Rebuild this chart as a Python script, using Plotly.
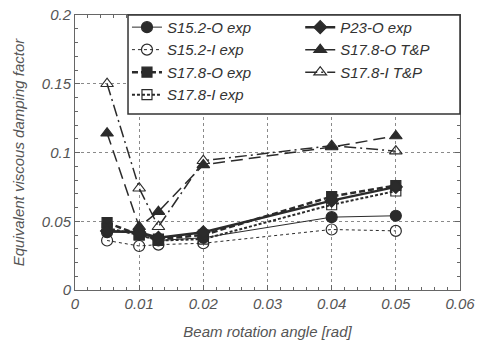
import plotly.graph_objects as go

x_vals = [0.005, 0.01, 0.013, 0.02, 0.04, 0.05]

s152_o_exp = [0.042, 0.042, 0.036, 0.038, 0.053, 0.054]
s152_i_exp = [0.036, 0.032, 0.033, 0.034, 0.044, 0.043]
s178_o_exp = [0.049, 0.040, 0.037, 0.040, 0.068, 0.076]
s178_i_exp = [0.045, 0.040, 0.036, 0.037, 0.062, 0.072]
p23_o_exp = [0.043, 0.042, 0.038, 0.042, 0.065, 0.075]
s178_o_tp = [0.114, 0.046, 0.057, 0.091, 0.104, 0.112]
s178_i_tp = [0.150, 0.074, 0.046, 0.094, 0.105, 0.101]

names = ["S15.2-O exp", "S15.2-I exp", "S17.8-O exp", "S17.8-I exp",
         "P23-O exp", "S17.8-O T&P", "S17.8-I T&P"]

x_ticks = [0, 0.01, 0.02, 0.03, 0.04, 0.05, 0.06]
x_tick_text = ["0", "0.01", "0.02", "0.03", "0.04", "0.05", "0.06"]
y_ticks = [0, 0.05, 0.1, 0.15, 0.2]
y_tick_text = ["0", "0.05", "0.1", "0.15", "0.2"]

DK = "#2b2b2b"
FONT = "Liberation Sans, Arial, sans-serif"

styles = [
    dict(y=s152_o_exp, dash="solid", w=1.0, sym="circle", size=11, legend="legend"),
    dict(y=s152_i_exp, dash="dot", w=1.0, sym="circle-open", size=11, legend="legend"),
    dict(y=s178_o_exp, dash="6px,3px", w=2.5, sym="square", size=10, legend="legend"),
    dict(y=s178_i_exp, dash="3px,2px", w=2.0, sym="square-open", size=10, legend="legend"),
    dict(y=p23_o_exp, dash="solid", w=2.5, sym="diamond", size=10, legend="legend2"),
    dict(y=s178_o_tp, dash="12px,6px", w=1.5, sym="triangle-up", size=11, legend="legend2"),
    dict(y=s178_i_tp, dash="12px,4px,2px,4px", w=1.5, sym="triangle-up-open", size=11, legend="legend2"),
]

fig = go.Figure()
for name, st in zip(names, styles):
    fig.add_trace(go.Scatter(
        x=x_vals, y=st["y"], name=name, mode="lines+markers",
        line=dict(color=DK, width=st["w"], dash=st["dash"]),
        marker=dict(symbol=st["sym"], size=st["size"], color=DK,
                    line=dict(color=DK, width=1.2)),
        legend=st["legend"],
    ))

axis_common = dict(
    showline=True, linecolor="#666", linewidth=1, mirror="allticks",
    ticks="inside", ticklen=5, tickcolor="#666",
    showgrid=True, gridcolor="#8a8a8a", gridwidth=1, griddash="dot",
    zeroline=False, automargin=False, ticklabeloverflow="allow",
    tickfont=dict(family=FONT, size=15, color="#555", style="italic"),
)

fig.update_xaxes(
    range=[0, 0.06], tickvals=x_ticks, ticktext=x_tick_text,
    minor=dict(dtick=0.002, ticks="inside", ticklen=3, tickcolor="#666", showgrid=False),
    title=dict(text="Beam rotation angle [rad]", standoff=15,
               font=dict(family=FONT, size=15, color="#555", style="italic")),
    **axis_common,
)
fig.update_yaxes(
    range=[0, 0.2], tickvals=y_ticks, ticktext=y_tick_text,
    minor=dict(dtick=0.01, ticks="inside", ticklen=3, tickcolor="#666", showgrid=False),
    title=dict(text="Equivalent viscous damping factor", standoff=13,
               font=dict(family=FONT, size=15, color="#555", style="italic")),
    **axis_common,
)

legend_common = dict(
    bgcolor="rgba(0,0,0,0)", borderwidth=0,
    font=dict(family=FONT, size=15, color="#333", style="italic"),
    yanchor="top", xanchor="left", tracegroupgap=0,
    itemwidth=30,
)

fig.update_layout(
    width=489, height=341,
    margin=dict(l=75, r=29, t=15, b=51, autoexpand=False),
    paper_bgcolor="white", plot_bgcolor="white",
    showlegend=True,
    legend=dict(x=0.135, y=1.015, **legend_common),
    legend2=dict(x=0.585, y=1.015, **legend_common),
    shapes=[dict(type="rect", xref="paper", yref="paper",
                 x0=0.1377, x1=1.0, y0=0.64, y1=1.0,
                 line=dict(color="#333", width=1.5), fillcolor="white",
                 layer="above")],
)

fig.write_html("out.html", config={"displayModeBar": False},
               post_script="document.body.style.margin='0px';")
